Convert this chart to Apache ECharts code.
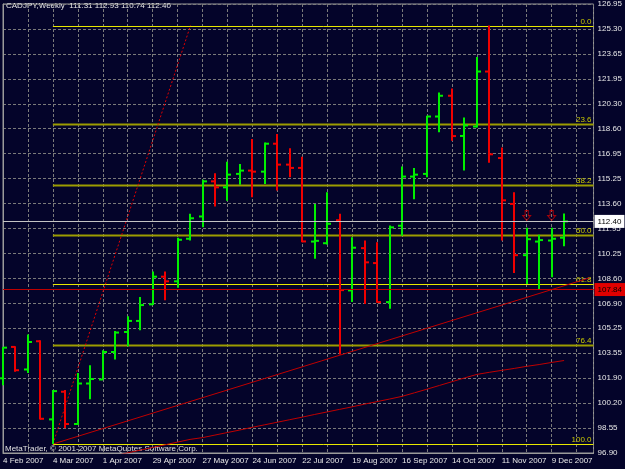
<!DOCTYPE html>
<html>
<head>
<meta charset="utf-8">
<script src="https://cdn.jsdelivr.net/npm/echarts@6.0.0/dist/echarts.min.js"></script>
<style>
  html, body { margin: 0; padding: 0; background: #04042a; }
  #chart { width: 625px; height: 469px; }
</style>
</head>
<body>
<div id="chart"></div>
<script>
// weekly bars, index 0 = week of 4 Feb 2007
var opens  = [101.90,104.00,102.49,104.38,99.15,101.00,98.84,101.55,101.82,103.66,105.00,105.74,106.85,108.70,108.39,111.24,112.73,115.08,114.68,115.58,115.80,115.73,117.60,116.20,115.98,111.05,110.94,112.48,107.78,110.61,109.61,107.00,112.11,115.40,115.58,119.42,120.81,118.12,118.75,122.43,116.64,113.57,110.14,111.05,111.12,111.31];
var highs  = [104.00,104.05,104.83,104.45,101.11,101.11,102.26,102.78,103.78,105.07,106.05,107.34,109.05,109.05,111.30,112.91,115.18,115.62,116.40,116.25,117.92,117.68,118.25,117.29,116.73,113.57,114.35,112.91,111.34,111.12,111.01,112.13,116.07,115.98,119.47,121.03,121.29,119.36,123.41,125.51,117.35,114.35,111.97,111.50,111.97,112.93];
var lows   = [101.44,102.33,102.26,99.15,97.50,98.55,98.77,100.49,101.80,103.16,104.05,105.11,106.80,107.12,107.96,111.12,112.01,113.39,113.79,114.86,114.02,114.91,114.46,115.35,111.01,109.90,110.86,103.50,107.00,106.87,106.95,106.56,111.44,113.88,115.35,118.36,117.80,115.80,118.69,116.33,111.12,108.94,108.21,107.83,108.67,110.74];
var closes = [103.95,102.44,104.33,99.19,101.04,98.84,101.55,101.85,103.66,104.96,105.74,106.80,108.70,108.39,111.17,112.61,115.08,114.68,115.53,115.80,115.73,117.60,116.20,115.98,111.06,111.10,112.24,107.80,110.64,109.66,107.00,112.00,115.40,115.53,119.42,120.81,118.11,118.82,122.43,116.89,113.81,110.14,111.21,111.15,111.24,112.40];

// moving average (starts below the visible range)
var maValues = [null,null,null,null,null,null,null,null,null,96.73,96.91,97.09,97.27,97.45,97.63,97.81,97.93,98.10,98.27,98.44,98.62,98.79,98.96,99.13,99.30,99.48,99.65,99.82,99.99,100.17,100.34,100.51,100.69,100.93,101.17,101.42,101.67,101.92,102.16,102.30,102.43,102.56,102.70,102.82,102.96,103.09];

var fibLevels = [125.51,118.90,114.81,111.51,108.20,104.11,97.50];
var fibLabels = ["0.0","23.6","38.2","50.0","61.8","76.4","100.0"];
var fibStart = 4;

var trendLine = [[4,97.50],[47.04,108.62]];
var fibDiagonal = [[4,97.50],[15.04,125.51]];
var fractalsUp = [[42,112.79],[44,112.79]];

var bidPrice = 112.40;
var redLevel = 107.84;

var dateLabels = ["4 Feb 2007","4 Mar 2007","1 Apr 2007","29 Apr 2007","27 May 2007","24 Jun 2007","22 Jul 2007","19 Aug 2007","16 Sep 2007","14 Oct 2007","11 Nov 2007","9 Dec 2007"];
var priceLabels = ["96.90","98.55","100.20","101.90","103.55","105.25","106.90","108.60","110.25","111.95","113.60","115.25","116.95","118.60","120.30","121.95","123.65","125.30","126.95"];

var yMin = 96.90, yMax = 126.95;
var yStep = (yMax - yMin) / (priceLabels.length - 1);
var xMax = 47.36;

var FONT = '"Liberation Sans", Arial, sans-serif';
var upColor = "#00f000";
var downColor = "#f00000";

var bars = [];
for (var i = 0; i < opens.length; i++) {
  bars.push([i, opens[i], highs[i], lows[i], closes[i]]);
}
var maData = [];
maValues.forEach(function (v, i) {
  if (v != null) maData.push([i, v]);
});
var fibData = fibLevels.map(function (v, i) { return [fibStart, v, i]; });

function renderBar(params, api) {
  var x = api.value(0);
  var o = api.coord([x, api.value(1)]);
  var h = api.coord([x, api.value(2)]);
  var l = api.coord([x, api.value(3)]);
  var c = api.coord([x, api.value(4)]);
  var color = api.value(4) >= api.value(1) ? upColor : downColor;
  var st = { stroke: color, lineWidth: 2 };
  var px = Math.round(h[0]);
  return {
    type: "group",
    children: [
      { type: "line", shape: { x1: px, y1: h[1], x2: px, y2: l[1] }, style: st },
      { type: "line", shape: { x1: px - 4, y1: o[1], x2: px, y2: o[1] }, style: st },
      { type: "line", shape: { x1: px, y1: c[1], x2: px + 4, y2: c[1] }, style: st }
    ]
  };
}

function renderFib(params, api) {
  var idx = api.value(2);
  var p = api.coord([api.value(0), api.value(1)]);
  var cs = params.coordSys;
  var bright = (idx === 0 || idx === 4 || idx === 6);
  var y = Math.round(p[1]) + 0.5;
  return {
    type: "group",
    children: [
      {
        type: "line",
        shape: { x1: p[0], y1: y, x2: cs.x + cs.width, y2: y },
        style: { stroke: bright ? "#e8e800" : "#9c9c00", lineWidth: bright ? 1 : 2 }
      },
      {
        type: "text",
        x: cs.x + cs.width - 2,
        y: y - 1,
        style: {
          text: fibLabels[idx],
          fill: "#c8c800",
          font: "8px " + FONT,
          align: "right",
          verticalAlign: "bottom"
        }
      }
    ]
  };
}

var myChart = echarts.init(document.getElementById("chart"));

var option = {
  animation: false,
  backgroundColor: "#04042a",
  grid: {
    left: 2,
    right: 31,
    top: 3,
    bottom: 16,
    show: true,
    borderColor: "#9a9a9a",
    borderWidth: 1
  },
  graphic: [
    {
      type: "text",
      left: 6,
      top: 2,
      style: {
        text: "CADJPY,Weekly  " + [opens[45], highs[45], lows[45], closes[45]].map(function (v) { return v.toFixed(2); }).join(" "),
        fill: "#e8e8e8",
        font: "8px " + FONT
      }
    },
    {
      type: "text",
      left: 5,
      top: 445,
      style: {
        text: "MetaTrader, \u00a9 2001-2007 MetaQuotes Software Corp.",
        fill: "#e0e0e0",
        font: "8px " + FONT
      }
    }
  ],
  xAxis: {
    type: "value",
    min: 0,
    max: xMax,
    interval: 2,
    axisLine: { show: true, lineStyle: { color: "#9a9a9a" } },
    axisTick: { show: false },
    axisLabel: {
      color: "#e8e8e8",
      fontSize: 8,
      fontFamily: FONT,
      align: "left",
      margin: 4,
      showMaxLabel: false,
      formatter: function (v) {
        if (Math.abs(v - Math.round(v)) > 0.001 || Math.round(v) % 4 !== 0) return "";
        return dateLabels[Math.round(v) / 4] || "";
      }
    },
    splitLine: { show: true, lineStyle: { color: "#7a7a7a", type: [3, 2], width: 1 } }
  },
  yAxis: {
    type: "value",
    position: "right",
    min: yMin,
    max: yMax,
    interval: yStep,
    axisLine: { show: true, lineStyle: { color: "#9a9a9a" } },
    axisTick: { show: false },
    axisLabel: {
      color: "#e8e8e8",
      fontSize: 8,
      fontFamily: FONT,
      margin: 4,
      formatter: function (v) {
        return priceLabels[Math.round((v - yMin) / yStep)] || "";
      }
    },
    splitLine: { show: true, lineStyle: { color: "#7a7a7a", type: [3, 2], width: 1 } }
  },
  series: [
    {
      name: "fibo",
      type: "custom",
      renderItem: renderFib,
      data: fibData,
      silent: true,
      z: 1
    },
    {
      name: "fiboLine",
      type: "line",
      data: fibDiagonal,
      symbol: "none",
      silent: true,
      lineStyle: { color: "#e00000", width: 1, type: [2, 2] },
      z: 2
    },
    {
      name: "trend",
      type: "line",
      data: trendLine,
      symbol: "none",
      silent: true,
      lineStyle: { color: "#c00000", width: 1 },
      z: 2,
      markLine: {
        silent: true,
        symbol: ["none", "none"],
        data: [
          {
            yAxis: bidPrice,
            lineStyle: { color: "#c4c4c4", type: "solid", width: 1 },
            label: {
              position: "end",
              distance: 1,
              formatter: bidPrice.toFixed(2),
              backgroundColor: "#ffffff",
              color: "#000000",
              fontSize: 8,
              fontFamily: FONT,
              padding: [3, 3, 2, 3]
            }
          },
          {
            yAxis: redLevel,
            lineStyle: { color: "#c00000", type: "solid", width: 1 },
            label: {
              position: "end",
              distance: 1,
              formatter: redLevel.toFixed(2),
              backgroundColor: "#e00000",
              color: "#000000",
              fontSize: 8,
              fontFamily: FONT,
              padding: [3, 3, 2, 3]
            }
          }
        ]
      }
    },
    {
      name: "ma",
      type: "line",
      data: maData,
      symbol: "none",
      silent: true,
      lineStyle: { color: "#c00000", width: 1 },
      z: 2
    },
    {
      name: "bars",
      type: "custom",
      renderItem: renderBar,
      data: bars,
      z: 3
    },
    {
      name: "fractals",
      type: "scatter",
      data: fractalsUp,
      symbol: "path://M3,0 L7,0 L7,6 L10,6 L5,12 L0,6 L3,6 Z",
      symbolSize: [8, 10],
      silent: true,
      itemStyle: { color: "transparent", borderColor: "#d00000", borderWidth: 1 },
      z: 4
    }
  ]
};

myChart.setOption(option);
</script>
</body>
</html>
